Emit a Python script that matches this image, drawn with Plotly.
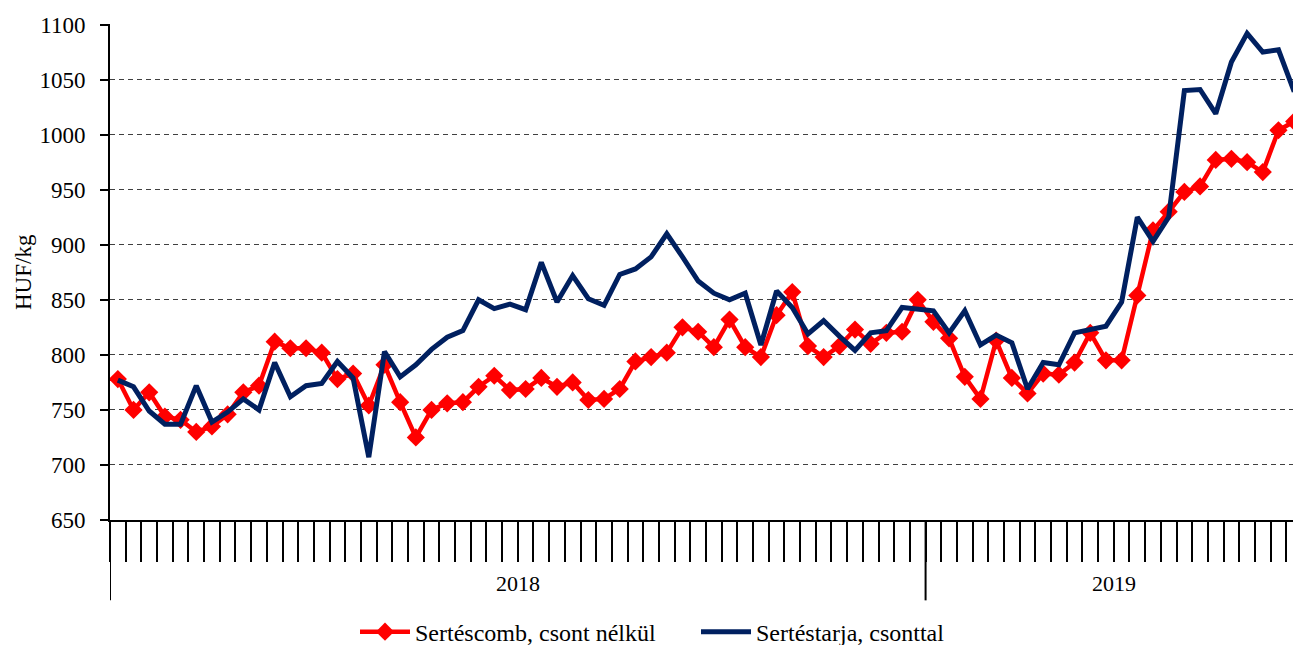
import plotly.graph_objects as go

years = ["2018", "2019"]
weeks_per_year = [52, 24]

sertescomb = [778, 750, 766, 744, 741, 730, 735, 746, 766, 772,
              812, 806, 806, 802, 778, 783, 754, 791, 757, 725,
              750, 756, 757, 771, 781, 768, 769, 779, 771, 775,
              759, 760, 769, 794, 798, 802, 825, 821, 807, 832,
              807, 798, 836, 857, 808, 798, 808, 823, 810, 820,
              821, 850, 830, 815, 780, 760, 813, 779, 765, 783,
              782, 793, 820, 795, 795, 854, 913, 930, 948, 953,
              977, 978, 975, 966, 1004, 1012]

sertestarja = [777, 771, 749, 737, 737, 772, 739, 748, 760, 750,
               793, 762, 772, 774, 794, 779, 707, 803, 780, 791,
               805, 816, 822, 850, 842, 846, 841, 884, 848, 872,
               851, 845, 873, 878, 889, 910, 889, 867, 856, 850,
               856, 809, 858, 843, 819, 831, 817, 804, 820, 822,
               843, 842, 840, 820, 840, 809, 818, 811, 769, 793,
               791, 820, 823, 826, 848, 925, 903, 925, 1040, 1041,
               1019, 1066, 1092, 1075, 1077, 1039]

names = ["Sertéscomb, csont nélkül", "Sertéstarja, csonttal"]
y_ticks = [650, 700, 750, 800, 850, 900, 950, 1000, 1050, 1100]

n = len(sertescomb)
x = list(range(n))
FONT = "Liberation Serif, Times New Roman, serif"

# page body has an 8px default margin; compensate in the figure margins
ML, MR, MT, MB = 102, 7, 16, 133
PW = 1301 - ML - MR
X0 = 110  # left edge of plot area in the window

fig = go.Figure()
fig.add_trace(go.Scatter(
    x=x, y=sertescomb, name=names[0], mode="lines+markers",
    line=dict(color="#FF0000", width=4.5),
    marker=dict(symbol="diamond", size=14, color="#FF0000"),
    legend="legend",
))
fig.add_trace(go.Scatter(
    x=x, y=sertestarja, name=names[1], mode="lines",
    line=dict(color="#002060", width=5),
    legend="legend2",
))

shapes = []
annotations = []
start = 0
bounds = [-0.5]
for yr, nw in zip(years, weeks_per_year):
    center = start + (nw - 1) / 2
    annotations.append(dict(x=center, xref="x", y=-0.129, yref="paper",
                            text=yr, showarrow=False,
                            font=dict(family=FONT, size=22, color="black"),
                            yanchor="middle"))
    start += nw
    bounds.append(start - 0.5)
for b in bounds[:-1]:
    shapes.append(dict(type="line", xref="x", yref="paper", x0=b, x1=b,
                       y0=0, y1=-0.162, line=dict(color="black", width=2)))

annotations.append(dict(x=(23 - X0) / PW, xref="paper", y=0.5, yref="paper",
                        text="HUF/kg", textangle=-90, showarrow=False,
                        font=dict(family=FONT, size=23, color="black"),
                        xanchor="center", yanchor="middle"))

leg_common = dict(orientation="h", xanchor="left", y=-0.226, yanchor="middle",
                  font=dict(family=FONT, size=24, color="black"),
                  itemwidth=50, bgcolor="rgba(0,0,0,0)")

fig.update_layout(
    width=1301, height=645,
    margin=dict(l=ML, r=MR, t=MT, b=MB, autoexpand=False),
    paper_bgcolor="white", plot_bgcolor="white",
    font=dict(family=FONT, size=23, color="black"),
    showlegend=True,
    legend=dict(x=(355 - X0) / PW, **leg_common),
    legend2=dict(x=(696 - X0) / PW, **leg_common),
    shapes=shapes,
    annotations=annotations,
)
fig.update_xaxes(
    range=[-0.5, n - 0.5], showgrid=False, zeroline=False,
    tickmode="array", tickvals=[i - 0.5 for i in range(n + 1)],
    ticktext=["" for _ in range(n + 1)],
    ticks="outside", ticklen=40, tickwidth=2, tickcolor="black",
    showline=True, linecolor="black", linewidth=2,
)
fig.update_yaxes(
    range=[650, 1100.5], tickmode="array", tickvals=y_ticks,
    ticks="outside", ticklen=8, tickwidth=2, tickcolor="black",
    showline=True, linecolor="black", linewidth=2,
    showgrid=True, gridcolor="#404040", gridwidth=1, griddash="5px,4px",
    zeroline=False, ticklabelstandoff=10,
    tickfont=dict(family=FONT, size=23, color="black"),
)

fig.write_html("out.html")
